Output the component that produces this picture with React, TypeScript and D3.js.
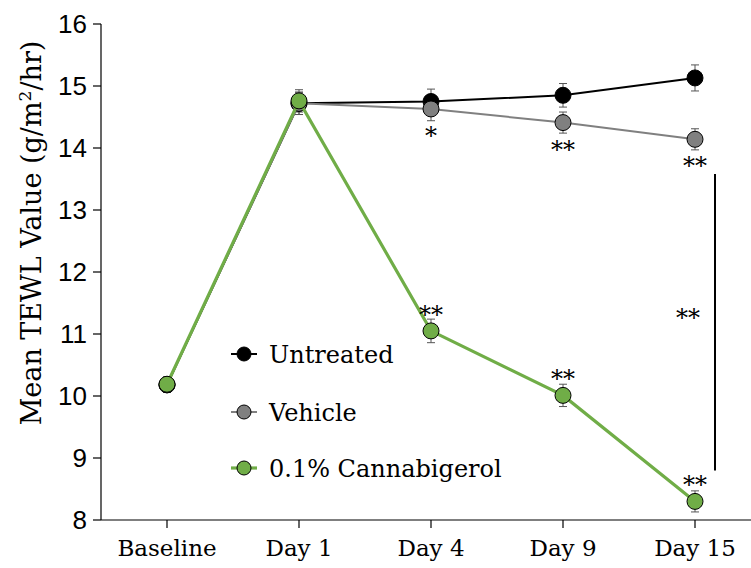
import React from "react";
import * as d3 from "d3";

const categories = ["Baseline", "Day 1", "Day 4", "Day 9", "Day 15"];
const untreated = [10.18, 14.72, 14.75, 14.85, 15.13];
const untreatedErr = [0.12, 0.18, 0.2, 0.19, 0.21];
const vehicle = [10.18, 14.72, 14.63, 14.41, 14.14];
const vehicleErr = [0.12, 0.18, 0.19, 0.17, 0.17];
const cannabigerol = [10.19, 14.76, 11.05, 10.01, 8.3];
const cannabigerolErr = [0.12, 0.18, 0.19, 0.18, 0.17];
const yTicks = [8, 9, 10, 11, 12, 13, 14, 15, 16];
const seriesNames = ["Untreated", "Vehicle", "0.1% Cannabigerol"];
// significance markers: [category index, label]
const vehicleStars: [number, string][] = [[2, "*"], [3, "**"], [4, "**"]];
const cbgStars: [number, string][] = [[2, "**"], [3, "**"], [4, "**"]];

const W = 751, H = 568;
const serif = "'DejaVu Serif', serif";
const sans = "'Liberation Sans', Arial, sans-serif";

export default function App() {
  const x = d3.scaleBand<string>().domain(categories).range([101, 761]).paddingInner(0).paddingOuter(0);
  const cx = (c: string) => (x(c) as number) + x.bandwidth() / 2;
  const y = d3.scaleLinear().domain([8, 16]).range([520, 24]);

  const series = [
    { name: seriesNames[0], vals: untreated, err: untreatedErr, line: "#000000", fill: "#000000", lw: 2 },
    { name: seriesNames[1], vals: vehicle, err: vehicleErr, line: "#808080", fill: "#808080", lw: 2 },
    { name: seriesNames[2], vals: cannabigerol, err: cannabigerolErr, line: "#70ad47", fill: "#70ad47", lw: 3.2 },
  ];

  const line = d3.line<number>().x((_, i) => cx(categories[i])).y((v) => y(v));

  const legendY = [354, 412, 468];

  return (
    <div style={{ position: "fixed", left: 0, top: 0, width: W, height: H, overflow: "hidden" }}>
      <svg width={W} height={H} style={{ display: "block", background: "#fff" }}>
        {/* y axis */}
        <line x1={101} x2={101} y1={y(16)} y2={520} stroke="#000" strokeWidth={1.2} />
        {yTicks.map((t) => (
          <g key={t}>
            <line x1={93} x2={101} y1={y(t)} y2={y(t)} stroke="#000" strokeWidth={1.2} />
            <text x={87} y={y(t)} dy="0.36em" textAnchor="end" fontFamily={sans} fontSize={26}>
              {t}
            </text>
          </g>
        ))}
        {/* x axis */}
        <line x1={101} x2={751} y1={520} y2={520} stroke="#000" strokeWidth={1.2} />
        {categories.map((c) => (
          <g key={c}>
            <line x1={cx(c)} x2={cx(c)} y1={520} y2={528} stroke="#000" strokeWidth={1.2} />
            <text x={cx(c)} y={556} textAnchor="middle" fontFamily={serif} fontSize={23}>
              {c}
            </text>
          </g>
        ))}
        <text
          transform={`translate(41,${233}) rotate(-90)`}
          textAnchor="middle"
          fontFamily={serif}
          fontSize={27}
        >
          Mean TEWL Value (g/m<tspan dy={-10} fontSize={17}>2</tspan>
          <tspan dy={10}>/hr)</tspan>
        </text>

        {/* error bars */}
        {series.map((s) =>
          s.vals.map((v, i) => {
            const px = cx(categories[i]);
            return (
              <g key={s.name + i} stroke="#555" strokeWidth={1}>
                <line x1={px} x2={px} y1={y(v + s.err[i])} y2={y(v - s.err[i])} />
                <line x1={px - 4} x2={px + 4} y1={y(v + s.err[i])} y2={y(v + s.err[i])} />
                <line x1={px - 4} x2={px + 4} y1={y(v - s.err[i])} y2={y(v - s.err[i])} />
              </g>
            );
          })
        )}
        {/* lines + markers */}
        {series.map((s) => (
          <g key={s.name}>
            <path d={line(s.vals) as string} fill="none" stroke={s.line} strokeWidth={s.lw} />
            {s.vals.map((v, i) => (
              <circle key={i} cx={cx(categories[i])} cy={y(v)} r={8} fill={s.fill} stroke="#000" strokeWidth={1} />
            ))}
          </g>
        ))}

        {/* significance */}
        {vehicleStars.map(([i, lab]) => (
          <text key={"v" + i} x={cx(categories[i])} y={y(vehicle[i]) + 35} textAnchor="middle" fontFamily={serif} fontSize={24}>
            {lab}
          </text>
        ))}
        {cbgStars.map(([i, lab]) => (
          <text key={"c" + i} x={cx(categories[i])} y={y(cannabigerol[i]) - 8} textAnchor="middle" fontFamily={serif} fontSize={24}>
            {lab}
          </text>
        ))}
        <line x1={715} x2={715} y1={y(13.58)} y2={y(8.8)} stroke="#000" strokeWidth={2} />
        <text x={688} y={y(11.13)} textAnchor="middle" fontFamily={serif} fontSize={24}>
          **
        </text>

        {/* legend */}
        {series.map((s, i) => (
          <g key={"leg" + i}>
            <line x1={231} x2={257} y1={legendY[i]} y2={legendY[i]} stroke={s.line} strokeWidth={s.lw} />
            <circle cx={244} cy={legendY[i]} r={7} fill={s.fill} stroke="#000" strokeWidth={1} />
            <text x={269} y={legendY[i]} dy="0.36em" fontFamily={serif} fontSize={24}>
              {s.name}
            </text>
          </g>
        ))}
      </svg>
    </div>
  );
}
